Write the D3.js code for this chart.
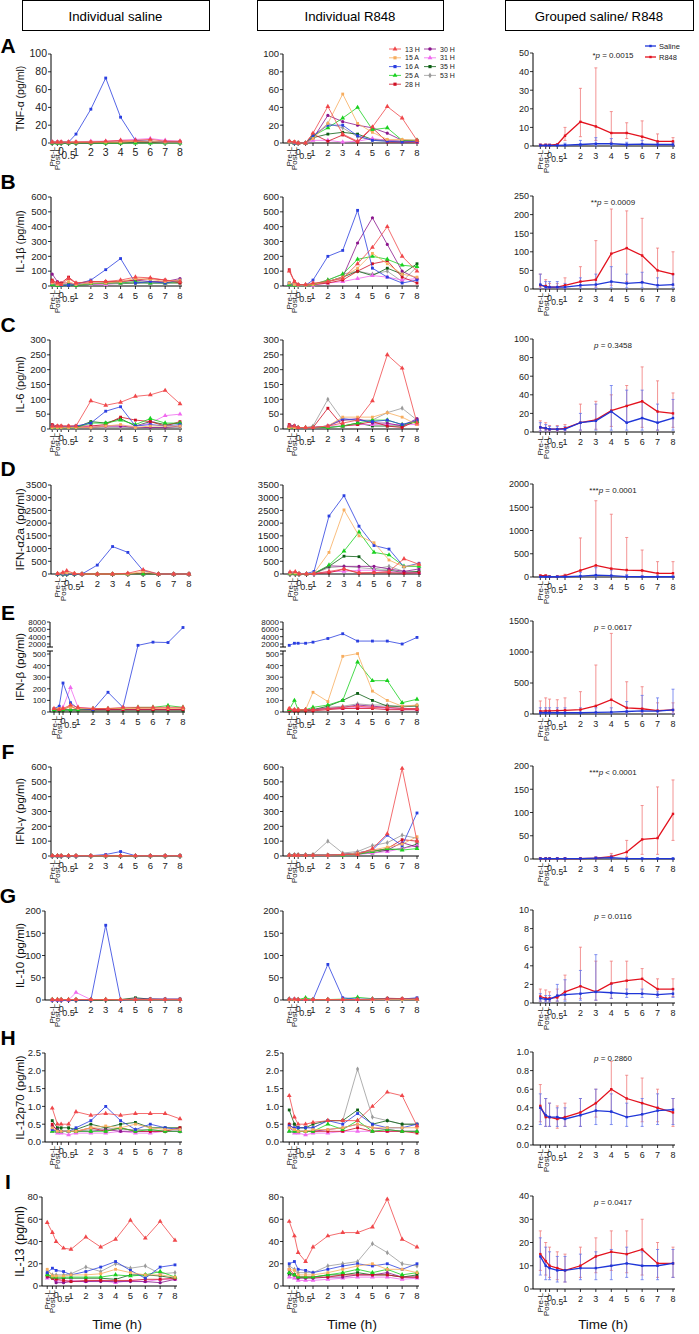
<!DOCTYPE html>
<html><head><meta charset="utf-8">
<script src="https://cdn.jsdelivr.net/npm/d3@7"></script>
<style>body{margin:0;background:#fff}svg{display:block}text{font-family:"Liberation Sans",Arial,sans-serif}</style>
</head><body><svg id="c" width="699" height="1334"></svg>
<script>
// ---------- DATA ----------
const times = ["Pre-L","Post-L","0","0.5","1","2","3","4","5","6","7","8"];
const timeVals = [-0.6,-0.25,0,0.5,1,2,3,4,5,6,7,8];
const hourTicks = [1,2,3,4,5,6,7,8];
const subjects = ["13 H","15 A","16 A","25 A","28 H","30 H","31 H","35 H","53 H"];
const letters = ["A","B","C","D","E","F","G","H","I"];
const yTitles = ["TNF-α (pg/ml)","IL-1β (pg/ml)","IL-6 (pg/ml)","IFN-α2a (pg/ml)","IFN-β (pg/ml)","IFN-γ (pg/ml)","IL-10 (pg/ml)","IL-12p70 (pg/ml)","IL-13 (pg/ml)"];
const pStars = ["*","**","","***","","***","","",""];
const pTexts = [" = 0.0015"," = 0.0009"," = 0.3458"," = 0.0001"," = 0.0617"," < 0.0001"," = 0.0116"," = 0.2860"," = 0.0417"];
const indMax = [100,600,300,3500,8000,600,200,2.5,80];
const indStep = [20,100,50,500,100,100,50,0.5,20];
const ifnbLowTicks = [0,100,200,300,400,500];
const ifnbHighTicks = [2000,4000,6000,8000];
const grpMax = [50,250,100,2000,1500,200,10,1.0,40];
const grpStep = [10,50,20,500,500,50,2,0.2,10];

// TNF-alpha
const tnfSaline = [[1,1,1,1,1,1,2,3,3,4,2,2],[1,1,1,1,1,1,1,1,2,2,1,1],[1,1,1,1,10,38,73,29,3,2,1,1],[0,0,0,0,0,0,0,0,0,0,0,0],[1,1,1,1,1,1,1,1,2,1,1,1],[0,0,0,0,0,0,1,1,1,1,1,1],[1,1,1,1,1,2,2,3,4,5,3,2],[0,0,0,0,0,0,0,0,1,1,1,1],[0,0,0,0,0,0,0,0,0,0,0,0]];
const tnfR848 = [[2,1,0,0,11,41,10,2,18,41,28,3],[1,1,0,0,5,22,55,22,12,4,4,3],[1,0,0,0,8,20,20,8,3,2,1,2],[1,0,0,0,8,17,28,40,15,17,3,3],[2,1,0,0,10,2,9,1,17,1,1,1],[1,0,0,0,5,31,24,20,17,11,3,3],[1,0,0,0,3,3,1,2,5,3,2,1],[1,1,0,0,6,10,12,10,4,3,2,3],[1,0,0,0,7,22,17,7,3,2,1,3]];
const tnfSalMean = [0.3,0.3,0.3,0.3,0.5,0.8,1.2,1.2,0.8,1,0.8,0.8];
const tnfSalHi = [1,1,1,1,1.5,3,4.5,4,2,3,2,2];
const tnfSalLo = [0,0,0,0,0,0,0,0,0,0,0,0];
const tnfR848Mean = [0.5,0.5,0.5,0.8,5.5,13,10.5,7,7,5,2.5,2.5];
const tnfR848Hi = [1.2,1.2,1,1.2,10,31,42,18.5,12.5,13.5,6.5,4.5];
const tnfR848Lo = [0,0,0,0.3,3,5,3,2,4,1,0.5,1];

// IL-1beta
const il1bSaline = [[30,20,10,50,20,30,30,40,60,55,40,30],[20,10,10,30,10,20,20,30,50,45,30,40],[20,10,5,5,10,40,110,185,20,30,20,40],[10,5,5,10,5,15,20,20,30,20,20,30],[40,20,20,60,20,30,30,30,40,50,40,20],[80,30,20,20,10,20,20,30,40,30,30,50],[20,10,10,10,10,10,10,20,30,20,20,30],[10,5,5,5,5,10,20,20,20,20,20,20],[10,5,5,5,5,10,15,15,20,30,20,30]];
const il1bR848 = [[100,30,10,10,20,30,50,150,260,400,200,100],[20,10,5,5,10,30,60,120,220,150,80,60],[20,10,5,5,40,200,240,510,120,60,20,40],[10,5,5,5,10,40,80,180,200,180,140,130],[110,30,10,5,10,20,40,100,150,170,60,20],[10,5,5,5,10,30,60,290,460,280,100,50],[10,5,5,5,5,20,30,50,70,60,40,50],[20,10,5,5,10,30,60,100,70,120,80,150],[10,5,5,5,10,40,80,100,80,100,30,130]];
const il1bSalMean = [12,5,5,5,5,10,12,20,15,18,10,12];
const il1bSalHi = [40,20,20,20,15,30,40,60,40,45,30,40];
const il1bSalLo = [2,1,1,1,1,2,2,3,3,3,3,3];
const il1bR848Mean = [10,8,5,5,10,20,25,95,110,90,50,40];
const il1bR848Hi = [40,25,15,15,30,60,130,215,210,190,110,100];
const il1bR848Lo = [2,2,1,1,2,5,5,10,20,20,10,10];

// IL-6
const il6Saline = [[10,10,10,10,10,95,80,90,110,115,130,85],[5,5,5,5,5,5,10,15,5,10,10,10],[10,8,8,8,10,20,60,75,10,15,10,15],[5,5,5,5,5,20,20,30,15,35,20,20],[15,10,10,10,10,10,15,40,30,25,10,25],[5,5,5,5,5,5,10,10,5,5,5,10],[5,5,5,5,5,10,10,10,10,20,45,50],[10,5,5,5,5,25,20,35,10,25,15,20],[5,5,5,5,5,5,5,5,5,5,5,5]];
const il6R848 = [[10,10,5,5,5,10,20,30,95,250,205,20],[5,5,5,5,5,10,40,40,40,55,40,15],[10,10,5,5,5,10,35,30,25,30,15,30],[5,5,5,5,5,5,10,20,30,30,15,25],[15,10,5,5,5,70,10,15,25,10,5,30],[10,10,5,5,5,10,30,35,20,20,10,35],[5,5,5,5,5,10,10,15,15,15,15,15],[5,5,5,5,5,5,10,20,10,10,10,25],[10,10,5,5,10,100,30,30,30,55,70,30]];
const il6SalMean = [5,4,3,3,3,10,12,22,10,15,10,15];
const il6SalHi = [10,8,6,6,6,20,30,50,45,45,30,35];
const il6SalLo = [1,1,1,1,1,2,2,2,2,2,2,2];
const il6R848Mean = [5,4,3,3,4,10,13,23,28,33,22,20];
const il6R848Hi = [12,10,7,7,8,30,33,40,50,70,55,42];
const il6R848Lo = [1,1,1,1,1,2,3,6,10,5,2,5];

// IFN-alpha2a
const ifnaSaline = [[20,60,130,20,0,0,0,30,170,0,0,0],[20,30,40,30,0,0,0,0,100,0,0,0],[0,0,0,0,0,350,1080,850,130,0,0,0],[0,0,0,0,0,0,0,0,0,0,0,0],[10,20,30,10,0,0,0,10,30,0,0,0],[0,0,0,0,0,0,0,0,0,0,0,0],[0,0,0,0,0,0,0,0,0,0,0,0],[0,0,0,0,0,0,0,0,0,0,0,0],[0,0,0,0,0,0,0,0,0,0,0,0]];
const ifnaR848 = [[80,90,10,10,20,100,200,50,50,100,600,380],[30,40,10,10,30,850,2520,1500,1230,550,280,380],[50,50,20,20,100,2280,3080,1880,1120,980,280,420],[10,10,5,5,20,350,900,1650,850,750,300,300],[10,10,5,5,10,50,190,30,50,50,30,50],[10,10,5,5,20,320,300,300,300,200,100,200],[10,10,5,5,10,100,100,150,150,100,50,50],[10,10,5,5,20,300,700,680,150,150,50,100],[10,10,5,5,10,250,300,250,200,300,100,100]];
const ifnaSalMean = [5,5,5,5,5,20,40,30,10,5,5,5];
const ifnaSalHi = [20,20,20,20,20,100,200,150,50,20,20,20];
const ifnaSalLo = [0,0,0,0,0,0,0,0,0,0,0,0];
const ifnaR848Mean = [30,30,10,10,30,140,250,180,150,140,80,80];
const ifnaR848Hi = [50,50,20,20,60,840,1640,1350,850,580,330,330];
const ifnaR848Lo = [10,10,5,5,10,20,30,20,20,20,10,10];

// IFN-beta
const ifnbSaline = [[30,20,30,60,40,30,30,40,40,40,40,40],[30,30,30,40,30,30,30,30,30,30,30,30],[30,50,250,80,30,20,170,40,1800,2500,2400,6500],[20,20,20,20,20,30,30,30,40,40,55,40],[20,30,20,50,20,20,20,20,20,20,20,20],[20,20,20,20,20,20,20,20,20,20,20,20],[20,30,40,210,40,30,30,20,30,30,20,30],[10,10,10,10,10,10,10,10,10,10,10,10],[20,20,20,20,20,20,20,20,20,20,20,20]];
const ifnbR848 = [[30,20,20,20,20,30,40,50,40,40,30,30],[30,20,20,20,170,90,480,560,180,100,50,60],[1800,2200,2200,2200,2500,3500,4800,2800,2800,2800,2000,3800],[20,100,20,20,40,60,100,430,270,270,80,110],[10,10,10,10,10,20,30,30,30,20,20,20],[20,20,20,20,20,30,40,60,50,40,30,30],[20,20,20,20,20,30,30,40,40,30,20,20],[10,10,10,10,20,50,100,160,100,50,50,50],[20,20,20,20,20,40,50,70,60,60,40,60]];
const ifnbSalMean = [20,20,20,20,20,20,25,30,40,50,45,65];
const ifnbSalHi = [100,100,100,100,100,100,100,100,200,300,260,400];
const ifnbSalLo = [0,0,0,0,0,0,0,0,0,0,0,0];
const ifnbR848Mean = [45,50,50,55,60,70,130,230,100,85,55,65];
const ifnbR848Hi = [210,260,240,230,260,360,790,1300,520,440,180,180];
const ifnbR848Lo = [10,10,10,10,10,10,10,20,20,20,10,10];

// IFN-gamma
const ifngSaline = [[2,2,2,2,2,2,2,2,2,2,2,2],[1,1,1,1,1,1,1,1,1,1,1,1],[0,0,0,0,0,2,10,30,2,2,2,2],[1,1,1,1,1,1,1,1,1,1,1,1],[2,2,2,2,2,2,2,2,2,2,2,2],[1,1,1,1,1,1,1,1,1,1,1,1],[1,1,1,1,1,1,1,1,1,1,1,1],[1,1,1,1,1,1,1,1,1,1,1,1],[1,1,1,1,1,1,1,1,1,1,1,1]];
const ifngR848 = [[5,5,5,5,5,5,10,10,50,150,590,100],[5,5,5,5,5,5,10,20,40,60,80,130],[5,5,5,5,5,5,10,20,40,140,70,290],[5,5,5,5,5,5,5,10,30,50,40,50],[5,5,5,5,5,5,10,20,30,50,110,100],[5,5,5,5,5,5,10,20,40,40,90,60],[5,5,5,5,5,5,5,10,20,30,50,70],[5,5,5,5,5,5,10,15,20,40,50,80],[10,10,10,10,10,100,20,30,70,90,140,120]];
const ifngSalMean = [1,1,1,1,1,1,2,3,1,1,1,1];
const ifngSalHi = [2,2,2,2,2,2,4,8,2,2,2,2];
const ifngSalLo = [0,0,0,0,0,0,0,0,0,0,0,0];
const ifngR848Mean = [1,1,1,1,1,1,2,5,15,42,45,97];
const ifngR848Hi = [3,3,3,3,3,3,5,12,40,115,155,170];
const ifngR848Lo = [0,0,0,0,0,0,0,1,5,10,10,40];

// IL-10
const il10Saline = [[1,1,1,1,1,1,1,1,1,1,1,1],[1,1,1,1,1,1,1,1,1,1,1,1],[0,0,0,0,0,0,168,0,2,2,2,2],[1,1,1,1,1,1,1,1,1,1,1,1],[1,1,1,1,1,1,1,1,2,2,2,2],[1,1,1,1,1,1,1,1,1,1,1,1],[0,0,0,0,17,1,1,1,1,1,1,1],[0,0,0,0,0,0,0,1,5,2,1,1],[1,1,1,1,1,1,1,1,1,1,1,1]];
const il10R848 = [[2,2,1,1,1,1,1,1,2,3,3,2],[1,1,1,1,1,1,1,1,1,1,1,1],[2,2,1,1,1,80,5,2,2,3,2,5],[2,1,1,5,1,1,2,6,3,3,2,2],[1,1,1,1,1,1,1,1,1,4,3,2],[1,1,1,1,1,1,1,1,1,2,2,2],[1,1,1,1,1,1,1,1,1,1,1,1],[1,1,1,1,1,1,1,1,1,1,1,1],[1,1,1,1,1,1,1,1,1,1,1,1]];
const il10SalMean = [0.5,0.4,0.4,0.8,0.9,1,1.2,1.1,1,1,0.9,1];
const il10SalHi = [1,0.8,0.8,2,2.5,3.5,5.2,2,1.5,1.5,1.2,1.5];
const il10SalLo = [0.2,0.1,0.1,0.2,0.2,0.3,0.3,0.5,0.6,0.6,0.6,0.6];
const il10R848Mean = [0.7,0.5,0.5,0.6,1.2,1.8,1.2,2.1,2.4,2.6,1.5,1.5];
const il10R848Hi = [1.5,1.4,1.2,1.5,3,6,4.5,4.5,4.5,3.7,2.6,2.6];
const il10R848Lo = [0.2,0.2,0.2,0.2,0.4,0.5,0.3,0.5,1,1,0.8,0.7];

// IL-12p70
const il12Saline = [[0.95,0.5,0.5,0.5,0.85,0.75,0.8,0.75,0.8,0.8,0.8,0.65],[0.4,0.3,0.3,0.3,0.3,0.4,0.45,0.4,0.5,0.4,0.35,0.35],[0.35,0.3,0.3,0.3,0.4,0.6,1.0,0.6,0.35,0.5,0.4,0.35],[0.3,0.3,0.3,0.3,0.3,0.3,0.3,0.4,0.3,0.35,0.3,0.3],[0.5,0.3,0.3,0.3,0.3,0.4,0.3,0.4,0.3,0.3,0.3,0.4],[0.45,0.35,0.3,0.3,0.3,0.3,0.35,0.3,0.3,0.3,0.3,0.3],[0.3,0.25,0.25,0.2,0.25,0.25,0.25,0.3,0.25,0.25,0.3,0.3],[0.6,0.4,0.4,0.4,0.35,0.5,0.4,0.5,0.55,0.4,0.4,0.4],[0.35,0.3,0.3,0.3,0.3,0.35,0.4,0.35,0.35,0.35,0.3,0.3]];
const il12R848 = [[1.3,0.7,0.5,0.5,0.55,0.6,0.6,0.6,1.0,1.4,1.3,0.45],[0.4,0.35,0.3,0.3,0.35,0.35,0.4,0.5,0.4,0.4,0.4,0.4],[0.45,0.4,0.4,0.4,0.4,0.6,0.5,0.8,0.5,0.4,0.4,0.5],[0.3,0.3,0.3,0.3,0.3,0.5,0.35,0.6,0.3,0.35,0.3,0.3],[0.5,0.35,0.3,0.3,0.3,0.3,0.3,0.4,0.3,0.3,0.3,0.25],[0.4,0.3,0.3,0.3,0.3,0.35,0.4,0.5,0.4,0.35,0.3,0.3],[0.3,0.25,0.25,0.2,0.25,0.25,0.3,0.3,0.3,0.3,0.3,0.3],[0.9,0.5,0.4,0.4,0.5,0.6,0.6,0.9,0.5,0.6,0.5,0.5],[0.5,0.5,0.4,0.4,0.4,0.6,0.6,2.05,0.7,0.6,0.5,0.5]];
const il12SalMean = [0.4,0.32,0.3,0.3,0.28,0.32,0.37,0.36,0.3,0.33,0.37,0.38];
const il12SalHi = [0.55,0.5,0.45,0.4,0.4,0.5,0.6,0.55,0.45,0.5,0.55,0.5];
const il12SalLo = [0.22,0.2,0.2,0.2,0.2,0.2,0.22,0.22,0.2,0.2,0.22,0.22];
const il12R848Mean = [0.42,0.3,0.3,0.28,0.3,0.35,0.45,0.6,0.5,0.45,0.4,0.35];
const il12R848Hi = [0.65,0.5,0.45,0.42,0.45,0.5,0.6,0.9,0.75,0.72,0.6,0.5];
const il12R848Lo = [0.25,0.2,0.2,0.18,0.2,0.2,0.3,0.35,0.3,0.25,0.25,0.2];

// IL-13
const il13Saline = [[57,48,40,34,33,44,35,42,59,43,58,41],[15,9,9,9,10,10,11,15,12,10,10,8],[12,16,14,13,10,13,17,22,14,7,17,19],[10,8,8,8,8,8,8,10,9,10,13,8],[9,7,6,5,4,5,5,5,5,6,6,7],[8,7,3,3,4,4,4,4,4,4,3,6],[7,8,5,4,5,4,5,3,5,4,6,6],[11,8,7,7,7,7,7,6,10,10,9,7],[14,10,10,10,11,17,13,20,16,18,11,12]];
const il13R848 = [[58,45,30,22,35,45,48,48,53,78,42,35],[15,14,10,10,10,12,15,18,20,15,15,12],[20,22,15,14,12,15,18,20,18,20,15,20],[12,10,8,8,8,10,12,15,12,15,10,12],[15,10,8,8,8,8,10,10,10,10,8,8],[12,10,7,7,7,8,8,10,10,12,8,8],[8,7,5,5,5,6,7,8,8,8,6,7],[10,10,8,8,8,10,10,12,10,10,8,10],[18,15,12,12,12,18,20,22,38,30,20,18]];
const il13SalMean = [14,10,9,8,8,9,9,10,11,10,10,11];
const il13SalHi = [22,18,16,14,14,15,16,17,18,16,17,17];
const il13SalLo = [6,4,4,3,3,4,4,4,5,4,4,5];
const il13R848Mean = [15,12,10,9,8,10,14,16,15,17,11,11];
const il13R848Hi = [25,20,18,16,15,18,22,25,25,30,20,18];
const il13R848Lo = [8,6,5,4,3,5,7,8,7,6,5,5];

const salineInd = [tnfSaline,il1bSaline,il6Saline,ifnaSaline,ifnbSaline,ifngSaline,il10Saline,il12Saline,il13Saline];
const r848Ind = [tnfR848,il1bR848,il6R848,ifnaR848,ifnbR848,ifngR848,il10R848,il12R848,il13R848];
const salMeans = [tnfSalMean,il1bSalMean,il6SalMean,ifnaSalMean,ifnbSalMean,ifngSalMean,il10SalMean,il12SalMean,il13SalMean];
const salHis = [tnfSalHi,il1bSalHi,il6SalHi,ifnaSalHi,ifnbSalHi,ifngSalHi,il10SalHi,il12SalHi,il13SalHi];
const salLos = [tnfSalLo,il1bSalLo,il6SalLo,ifnaSalLo,ifnbSalLo,ifngSalLo,il10SalLo,il12SalLo,il13SalLo];
const r848Means = [tnfR848Mean,il1bR848Mean,il6R848Mean,ifnaR848Mean,ifnbR848Mean,ifngR848Mean,il10R848Mean,il12R848Mean,il13R848Mean];
const r848His = [tnfR848Hi,il1bR848Hi,il6R848Hi,ifnaR848Hi,ifnbR848Hi,ifngR848Hi,il10R848Hi,il12R848Hi,il13R848Hi];
const r848Los = [tnfR848Lo,il1bR848Lo,il6R848Lo,ifnaR848Lo,ifnbR848Lo,ifngR848Lo,il10R848Lo,il12R848Lo,il13R848Lo];

// ---------- STYLE / LAYOUT ----------
const subjColors = ["#f0474a","#f7ad5e","#2b3fe0","#19d11f","#cf0f23","#8b168d","#f069ef","#0c5f14","#9a9a9a"];
const subjShapes = [d3.symbolTriangle,d3.symbolSquare,d3.symbolSquare,d3.symbolTriangle,d3.symbolSquare,d3.symbolCircle,d3.symbolTriangle,d3.symbolSquare,d3.symbolDiamond];
const salColor = "#1f36d8", r848Color = "#e3121e";
const salBar = "#6677ee", r848Bar = "#f07a7a";

const rowTop = [54,197,340,485,622,767,911,1053,1197];
const labelY = [45,181,324,468,612,751,895,1037,1181];
const c1Axis = [51,51,50,51,50,51,45,45,42];
const c1X1 = [76,76,76,82,78,76,76,76,71];
const c1X8 = [180,180,180,189,183,180,180,180,175];
const titleSize = [10.5,11,11,11.7,11.5,11.5,11.5,11.5,12.5];

const svg = d3.select("#c");

// headers
[["Individual saline",22,209],["Individual R848",257,443],["Grouped saline/ R848",505,693]].forEach(h=>{
  svg.append("rect").attr("x",h[1]+0.5).attr("y",0.5).attr("width",h[2]-h[1]).attr("height",30)
    .attr("fill","none").attr("stroke","#000").attr("stroke-width",1);
  svg.append("text").attr("x",(h[1]+h[2])/2).attr("y",20.5).attr("text-anchor","middle")
    .attr("font-size",13.2).text(h[0]);
});

function fmt(r){ return r===7 ? d3.format(".1f") : d3.format("d"); }

function xAxis(g, x, ax, bot, xEnd, fs){
  g.append("line").attr("x1",ax).attr("x2",xEnd).attr("y1",bot).attr("y2",bot).attr("stroke","#000").attr("stroke-width",1);
  timeVals.forEach(t=>{
    g.append("line").attr("x1",x(t)).attr("x2",x(t)).attr("y1",bot).attr("y2",bot+3).attr("stroke","#000").attr("stroke-width",0.8);
  });
  hourTicks.forEach(t=>{
    g.append("text").attr("x",x(t)).attr("y",bot+13).attr("text-anchor","middle").attr("font-size",fs).attr("fill","#222").text(String(t));
  });
  g.append("text").attr("x",x(0)).attr("y",bot+12).attr("text-anchor","middle").attr("font-size",fs-0.5).attr("fill","#222").text(times[2]);
  g.append("text").attr("x",x(0.5)).attr("y",bot+16).attr("text-anchor","middle").attr("font-size",fs-0.5).attr("fill","#222").text(times[3]);
  [0,1].forEach(i=>{
    g.append("text").attr("transform",`translate(${x(timeVals[i])+2.8},${bot+4}) rotate(-90)`)
      .attr("text-anchor","end").attr("font-size",8).attr("fill","#222").text(times[i]);
  });
}

function yAxisLinear(g, y, ax, top, bot, max, step, f, fs){
  g.append("line").attr("x1",ax).attr("x2",ax).attr("y1",top).attr("y2",bot).attr("stroke","#000").attr("stroke-width",1);
  d3.range(0, max+step/2, step).forEach(v=>{
    g.append("line").attr("x1",ax-3).attr("x2",ax).attr("y1",y(v)).attr("y2",y(v)).attr("stroke","#000").attr("stroke-width",0.8);
    g.append("text").attr("x",ax-4).attr("y",y(v)+3.3).attr("text-anchor","end").attr("font-size",fs).attr("fill","#222").text(f(v));
  });
}

function yAxisBroken(g, y, ax, top, bot){
  g.append("line").attr("x1",ax).attr("x2",ax).attr("y1",y(500)-3).attr("y2",bot).attr("stroke","#000");
  g.append("line").attr("x1",ax).attr("x2",ax).attr("y1",top).attr("y2",y(2000)+3).attr("stroke","#000");
  [y(500)-3,y(2000)+3].forEach(yy=>{
    g.append("line").attr("x1",ax-3).attr("x2",ax+3).attr("y1",yy).attr("y2",yy).attr("stroke","#000");
  });
  ifnbLowTicks.concat(ifnbHighTicks).forEach(v=>{
    g.append("line").attr("x1",ax-3).attr("x2",ax).attr("y1",y(v)).attr("y2",y(v)).attr("stroke","#000").attr("stroke-width",0.8);
    g.append("text").attr("x",ax-4).attr("y",y(v)+3).attr("text-anchor","end").attr("font-size",8).attr("fill","#222").text(String(v));
  });
}

function indPanel(r, data, ax, x1, x8, withTitle){
  const top = rowTop[r], bot = r===4 ? top+90 : top+89;
  const x = d3.scaleLinear().domain([1,8]).range([x1,x8]);
  let y;
  if (r===4) y = d3.scaleLinear().domain([0,500,2000,8000]).range([bot,bot-58,bot-68,top]);
  else y = d3.scaleLinear().domain([0,indMax[r]]).range([bot,top]);
  const g = svg.append("g");
  const fs = (r===0 && withTitle) ? 10.5 : 9.5;
  if (r===4) yAxisBroken(g, y, ax, top, bot);
  else yAxisLinear(g, y, ax, top, bot, indMax[r], indStep[r], fmt(r), fs);
  xAxis(g, x, ax, bot, x8+2, fs);
  const line = d3.line().x((d,i)=>x(timeVals[i])).y(d=>y(d));
  for (let s = subjects.length-1; s>=0; s--){
    g.append("path").attr("d",line(data[s])).attr("fill","none").attr("stroke",subjColors[s]).attr("stroke-width",0.8);
    data[s].forEach((v,i)=>{
      g.append("path").attr("d",d3.symbol().type(subjShapes[s]).size(subjShapes[s]===d3.symbolTriangle?10:8)())
        .attr("transform",`translate(${x(timeVals[i])},${y(v)})`).attr("fill",subjColors[s]);
    });
  }
  if (withTitle){
    svg.append("text").attr("transform",`translate(${24},${(top+bot)/2}) rotate(-90)`)
      .attr("text-anchor","middle").attr("font-size",titleSize[r]).attr("fill","#111").text(yTitles[r]);
  }
}

function grpPanel(r){
  const ax = 533, x1 = 565, x8 = 673;
  const top = rowTop[r]-1, bot = rowTop[r]+92;
  const x = d3.scaleLinear().domain([1,8]).range([x1,x8]);
  const y = d3.scaleLinear().domain([0,grpMax[r]]).range([bot,top]);
  const g = svg.append("g");
  yAxisLinear(g, y, ax, top, bot, grpMax[r], grpStep[r], fmt(r), 9);
  xAxis(g, x, ax, bot, x8+2, 9);
  const series = [
    {m:r848Means[r], hi:r848His[r], lo:r848Los[r], c:r848Color, b:r848Bar},
    {m:salMeans[r], hi:salHis[r], lo:salLos[r], c:salColor, b:salBar}
  ];
  series.forEach(sr=>{
    sr.m.forEach((v,i)=>{
      const xx = x(timeVals[i]);
      g.append("line").attr("x1",xx).attr("x2",xx).attr("y1",y(sr.lo[i])).attr("y2",y(sr.hi[i])).attr("stroke",sr.b).attr("stroke-width",0.8);
      [sr.lo[i],sr.hi[i]].forEach(vv=>{
        g.append("line").attr("x1",xx-1.5).attr("x2",xx+1.5).attr("y1",y(vv)).attr("y2",y(vv)).attr("stroke",sr.b).attr("stroke-width",0.8);
      });
    });
  });
  const line = d3.line().x((d,i)=>x(timeVals[i])).y(d=>y(d));
  series.forEach(sr=>{
    g.append("path").attr("d",line(sr.m)).attr("fill","none").attr("stroke",sr.c).attr("stroke-width",1.3);
    sr.m.forEach((v,i)=>{
      g.append("rect").attr("x",x(timeVals[i])-1.2).attr("y",y(v)-1.2).attr("width",2.4).attr("height",2.4).attr("fill",sr.c);
    });
  });
  const t = g.append("text").attr("x",613).attr("y", r===0 ? top+5 : top+9).attr("text-anchor","middle").attr("font-size",8).attr("fill","#222");
  t.append("tspan").text(pStars[r]);
  t.append("tspan").attr("font-style","italic").text("p");
  t.append("tspan").text(pTexts[r]);
}

for (let r=0; r<9; r++){
  svg.append("text").attr("x",8).attr("y",labelY[r]+7.5).attr("text-anchor","middle")
    .attr("font-size",21).attr("font-weight","bold").text(letters[r]);
  indPanel(r, salineInd[r], c1Axis[r], c1X1[r], c1X8[r], true);
  indPanel(r, r848Ind[r], 283, r===3?314:313, r===3?419:417, false);
  grpPanel(r);
}

// legend (individuals)
subjects.forEach((s,i)=>{
  const col = i<5?0:1, row = i<5?i:i-5;
  const mx = col===0?395:430, yy = 49 + row*8.8;
  svg.append("line").attr("x1",mx-6).attr("x2",mx+6).attr("y1",yy).attr("y2",yy).attr("stroke",subjColors[i]).attr("stroke-width",0.8);
  svg.append("path").attr("d",d3.symbol().type(subjShapes[i]).size(10)()).attr("transform",`translate(${mx},${yy})`).attr("fill",subjColors[i]);
  svg.append("text").attr("x",mx+10).attr("y",yy+2.5).attr("font-size",7).attr("fill","#222").text(s);
});
// legend (grouped)
[["Saline",salColor,46],["R848",r848Color,57]].forEach(l=>{
  svg.append("line").attr("x1",645).attr("x2",656).attr("y1",l[2]).attr("y2",l[2]).attr("stroke",l[1]).attr("stroke-width",1.3);
  svg.append("rect").attr("x",649.3).attr("y",l[2]-1.2).attr("width",2.4).attr("height",2.4).attr("fill",l[1]);
  svg.append("text").attr("x",659).attr("y",l[2]+2.5).attr("font-size",7.5).attr("fill","#222").text(l[0]);
});
// Time (h)
[117,352,603].forEach(cx=>{
  svg.append("text").attr("x",cx).attr("y",1329).attr("text-anchor","middle").attr("font-size",13.5).attr("fill","#111").text("Time (h)");
});
</script></body></html>
